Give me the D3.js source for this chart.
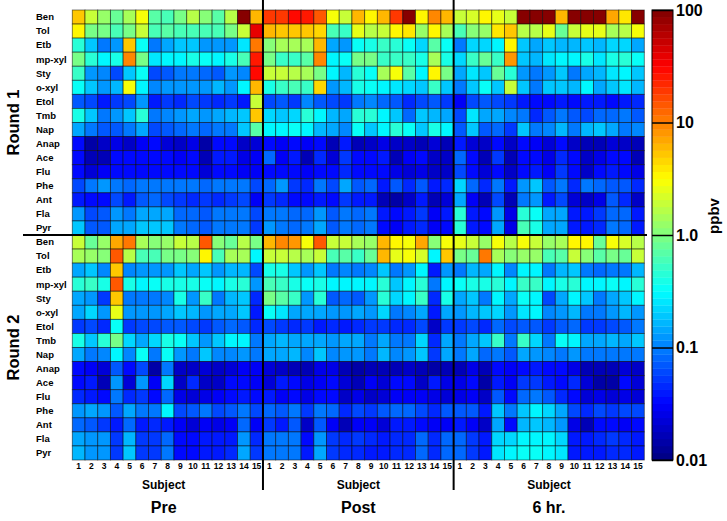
<!DOCTYPE html>
<html><head><meta charset="utf-8">
<script src="https://cdn.jsdelivr.net/npm/d3@7"></script>
<style>
body{margin:0;background:#fff;}
text{font-family:"Liberation Sans",Arial,sans-serif;font-weight:bold;fill:#000;}
</style>
</head><body>
<svg id="c" width="727" height="521"></svg>
<script>
const compounds = ["Ben","Tol","Etb","mp-xyl","Sty","o-xyl","Etol","Tmb","Nap","Anap","Ace","Flu","Phe","Ant","Fla","Pyr"];
const subjects = d3.range(1,16).map(String);
const phases = ["Pre","Post","6 hr."];
const rounds = ["Round 1","Round 2"];
const colorTicks = [0.01,0.1,1,10,100];
const colorTickLabels = ["0.01","0.1","1.0","10","100"];

// values in ppbv, rows = compounds, columns = subjects 1..15
const r1Pre = [
[5,1.8,1.2,0.8,1.5,3,0.7,0.6,1,1.6,1.1,0.7,1.6,90,6],
[3.2,1,1,0.6,1,1.8,0.6,0.7,0.6,0.6,0.6,0.6,1,2,40],
[0.45,0.2,0.1,0.12,5,0.32,0.1,0.15,0.2,0.18,0.13,0.12,0.13,0.25,11],
[0.9,0.45,0.3,0.4,10,0.9,0.25,0.3,0.3,0.4,0.32,0.3,0.4,0.6,25],
[0.5,0.12,0.11,0.06,0.2,0.32,0.06,0.07,0.09,0.1,0.08,0.065,0.12,0.11,30],
[0.32,0.18,0.13,0.16,2.8,0.3,0.11,0.12,0.12,0.13,0.12,0.16,0.13,0.3,6],
[0.07,0.06,0.04,0.055,0.06,0.13,0.04,0.05,0.045,0.06,0.05,0.045,0.05,0.04,1.8],
[0.4,0.2,0.1,0.12,0.2,0.45,0.09,0.11,0.13,0.15,0.13,0.14,0.16,0.2,5],
[0.15,0.1,0.07,0.07,0.09,0.15,0.06,0.07,0.08,0.1,0.08,0.09,0.1,0.2,0.7],
[0.035,0.015,0.018,0.025,0.02,0.03,0.035,0.022,0.018,0.025,0.015,0.035,0.035,0.018,0.022],
[0.035,0.016,0.016,0.035,0.035,0.035,0.032,0.035,0.03,0.035,0.016,0.04,0.04,0.025,0.03],
[0.035,0.022,0.03,0.035,0.035,0.035,0.035,0.035,0.035,0.035,0.022,0.035,0.035,0.028,0.03],
[0.06,0.09,0.12,0.09,0.08,0.1,0.1,0.1,0.1,0.1,0.08,0.1,0.09,0.1,0.06],
[0.04,0.035,0.035,0.06,0.04,0.07,0.08,0.06,0.05,0.045,0.05,0.045,0.05,0.06,0.03],
[0.12,0.06,0.07,0.12,0.1,0.14,0.14,0.14,0.08,0.08,0.07,0.1,0.1,0.1,0.06],
[0.2,0.065,0.07,0.15,0.15,0.18,0.18,0.18,0.09,0.08,0.07,0.1,0.1,0.1,0.05]];
const r1Post = [
[18,20,28,25,15,3,2,6,3.5,6,18,90,3.2,9,6],
[6,5.5,5.5,5,4.5,0.6,0.55,2.5,1.6,2,3.5,4,1.3,3.2,1.5],
[1.1,1.4,1.4,1.5,6,0.15,0.12,0.32,0.4,0.5,0.45,0.32,0.22,0.7,0.32],
[0.9,0.55,0.5,0.7,10,0.3,0.32,1,0.9,0.55,0.5,0.55,0.4,1.4,0.4],
[2,1.8,1.6,1.5,1,0.28,0.17,0.45,0.35,1.4,2.8,0.7,0.3,3.2,0.9],
[0.4,0.5,0.6,0.55,4.5,0.13,0.17,0.4,0.32,0.3,0.25,0.22,0.2,0.5,0.2],
[0.06,0.07,0.05,0.11,0.07,0.06,0.05,0.1,0.11,0.08,0.07,0.045,0.06,0.065,0.05],
[0.22,0.18,0.22,0.45,0.28,0.17,0.14,0.45,0.45,0.28,0.2,0.08,0.2,0.17,0.14],
[0.3,0.28,0.33,0.3,0.17,0.14,0.11,0.33,0.18,0.3,0.45,0.32,0.18,0.38,0.28],
[0.035,0.028,0.035,0.028,0.035,0.016,0.04,0.016,0.02,0.025,0.018,0.02,0.016,0.022,0.017],
[0.08,0.028,0.04,0.016,0.045,0.022,0.05,0.035,0.035,0.04,0.017,0.03,0.035,0.02,0.02],
[0.035,0.035,0.035,0.03,0.035,0.035,0.045,0.035,0.035,0.035,0.027,0.022,0.025,0.02,0.02],
[0.08,0.13,0.055,0.045,0.1,0.06,0.15,0.07,0.08,0.04,0.065,0.045,0.07,0.04,0.045],
[0.05,0.045,0.035,0.035,0.04,0.035,0.05,0.04,0.04,0.016,0.015,0.02,0.04,0.017,0.022],
[0.1,0.1,0.08,0.08,0.12,0.07,0.1,0.08,0.09,0.04,0.035,0.04,0.05,0.03,0.04],
[0.13,0.1,0.08,0.09,0.14,0.07,0.1,0.08,0.1,0.035,0.03,0.04,0.045,0.03,0.035]];
const r1Hr6 = [
[1.8,2.2,3.5,2.5,1.8,90,90,90,6,90,90,90,7,4,90],
[0.6,1.1,1.2,4,5,1.6,1.6,2.5,0.75,2,2.6,2.6,1.5,1.6,3],
[0.1,0.22,0.22,0.3,3.2,0.18,0.15,0.2,0.17,0.17,0.2,0.17,0.22,0.22,0.15],
[0.22,0.55,0.8,0.55,8,0.2,0.16,0.25,0.28,0.3,0.38,0.26,0.4,0.45,0.32],
[0.15,0.25,0.2,0.8,0.45,0.12,0.09,0.13,0.2,0.1,0.15,0.16,0.25,0.28,0.2],
[0.09,0.18,0.32,0.18,2,0.2,0.1,0.2,0.18,0.17,0.28,0.14,0.2,0.25,0.17],
[0.03,0.06,0.065,0.06,0.055,0.04,0.035,0.035,0.04,0.035,0.04,0.04,0.035,0.04,0.045],
[0.06,0.25,0.14,0.14,0.11,0.09,0.045,0.065,0.09,0.065,0.06,0.08,0.08,0.1,0.065],
[0.065,0.2,0.065,0.08,0.05,0.2,0.09,0.11,0.17,0.1,0.17,0.2,0.15,0.09,0.11],
[0.04,0.022,0.018,0.035,0.018,0.035,0.028,0.022,0.035,0.02,0.016,0.016,0.022,0.02,0.016],
[0.08,0.035,0.016,0.055,0.016,0.035,0.035,0.025,0.045,0.035,0.018,0.025,0.035,0.035,0.016],
[0.06,0.035,0.022,0.035,0.018,0.035,0.04,0.028,0.05,0.035,0.02,0.035,0.04,0.035,0.025],
[0.22,0.08,0.045,0.1,0.04,0.12,0.2,0.07,0.1,0.045,0.1,0.08,0.07,0.065,0.045],
[0.15,0.028,0.016,0.06,0.016,0.09,0.13,0.04,0.06,0.022,0.018,0.025,0.07,0.045,0.018],
[0.45,0.04,0.035,0.13,0.025,0.45,0.32,0.15,0.14,0.04,0.04,0.05,0.08,0.08,0.04],
[0.45,0.04,0.035,0.14,0.025,0.6,0.38,0.15,0.15,0.04,0.04,0.045,0.09,0.08,0.04]];
const r2Pre = [
[2,0.8,1.2,7,11,1.4,1.1,1.2,1.8,1.7,14,1.1,0.8,1.6,1],
[1.5,1.2,1.1,15,1.6,0.6,0.6,0.9,1,1.1,3.5,0.6,1.5,1.4,0.3],
[0.15,0.2,0.11,5,0.11,0.13,0.12,0.12,0.18,0.15,0.18,0.12,0.17,0.17,0.06],
[0.45,0.5,0.4,14,0.38,0.3,0.32,0.38,0.38,0.4,0.32,0.3,0.4,0.45,0.13],
[0.15,0.12,0.055,5,0.1,0.1,0.09,0.11,0.4,0.12,0.5,0.09,0.16,0.2,0.045],
[0.15,0.22,0.12,2.6,0.13,0.13,0.12,0.15,0.18,0.17,0.13,0.15,0.15,0.2,0.04],
[0.055,0.06,0.045,0.32,0.055,0.06,0.06,0.07,0.07,0.06,0.055,0.065,0.08,0.07,0.045],
[0.4,0.2,0.45,0.9,0.22,0.15,0.22,0.38,0.32,0.2,0.12,0.2,0.28,0.3,0.1],
[0.14,0.1,0.11,0.3,0.11,0.32,0.1,0.35,0.13,0.1,0.2,0.11,0.11,0.13,0.1],
[0.035,0.028,0.022,0.07,0.035,0.06,0.015,0.09,0.018,0.018,0.022,0.018,0.022,0.03,0.028],
[0.035,0.04,0.017,0.13,0.022,0.12,0.028,0.22,0.018,0.045,0.018,0.018,0.035,0.035,0.028],
[0.045,0.04,0.035,0.09,0.045,0.05,0.035,0.08,0.025,0.022,0.025,0.03,0.035,0.04,0.035],
[0.12,0.15,0.13,0.07,0.15,0.1,0.1,0.3,0.06,0.07,0.09,0.06,0.07,0.1,0.06],
[0.08,0.07,0.055,0.04,0.08,0.04,0.045,0.04,0.028,0.022,0.03,0.025,0.028,0.08,0.028],
[0.15,0.12,0.13,0.055,0.16,0.05,0.05,0.08,0.035,0.035,0.04,0.04,0.04,0.13,0.045],
[0.17,0.13,0.13,0.055,0.2,0.05,0.05,0.09,0.035,0.035,0.04,0.04,0.045,0.15,0.05]];
const r2Post = [
[6,9,8.5,3,15,2,1.8,1.5,1.2,6,3.5,3,7,1.1,3],
[2,2,1.7,1.4,2,0.6,0.7,0.5,0.8,6,2.5,3,2.2,0.3,5],
[0.4,0.4,0.2,0.12,0.2,0.09,0.11,0.1,0.11,0.2,0.1,0.12,0.3,0.04,0.13],
[0.6,0.55,0.38,0.32,0.38,0.28,0.3,0.3,0.28,0.45,0.2,0.3,0.45,0.1,0.3],
[1,0.7,0.5,0.12,0.45,0.065,0.08,0.065,0.12,0.45,0.22,0.28,0.5,0.045,0.38],
[0.32,0.25,0.15,0.15,0.15,0.13,0.12,0.14,0.12,0.22,0.09,0.11,0.14,0.04,0.15],
[0.06,0.05,0.045,0.05,0.04,0.045,0.04,0.045,0.05,0.055,0.045,0.045,0.06,0.018,0.05],
[0.15,0.17,0.15,0.15,0.15,0.13,0.14,0.14,0.1,0.15,0.09,0.1,0.22,0.045,0.15],
[0.14,0.15,0.17,0.11,0.18,0.11,0.13,0.12,0.1,0.16,0.11,0.12,0.2,0.05,0.15],
[0.022,0.02,0.016,0.016,0.025,0.025,0.016,0.015,0.016,0.017,0.016,0.02,0.016,0.015,0.016],
[0.022,0.04,0.035,0.025,0.028,0.035,0.022,0.016,0.03,0.022,0.035,0.035,0.018,0.04,0.025],
[0.04,0.028,0.035,0.025,0.035,0.035,0.018,0.025,0.018,0.022,0.028,0.028,0.03,0.025,0.022],
[0.08,0.07,0.09,0.05,0.09,0.08,0.045,0.06,0.055,0.065,0.08,0.08,0.06,0.045,0.065],
[0.05,0.04,0.065,0.018,0.065,0.028,0.017,0.028,0.028,0.022,0.04,0.04,0.035,0.03,0.028],
[0.1,0.1,0.09,0.035,0.13,0.05,0.045,0.05,0.045,0.04,0.045,0.045,0.08,0.045,0.08],
[0.1,0.1,0.09,0.04,0.15,0.055,0.045,0.045,0.04,0.04,0.045,0.045,0.08,0.045,0.08]];
const r2Hr6 = [
[2.4,1.8,1.3,3,1.6,2.8,1.8,1.2,1.5,3.2,3.2,0.8,2.8,2.2,1.6],
[1,0.8,11,1.5,1.1,1.3,1.3,0.6,0.7,2,1.1,0.7,1,0.8,2],
[0.1,0.16,0.14,0.3,0.11,0.3,0.3,0.1,0.17,0.2,0.09,0.08,0.1,0.1,0.17],
[0.32,0.4,0.38,0.45,0.28,0.55,0.55,0.3,0.38,0.45,0.3,0.28,0.32,0.28,0.45],
[0.14,0.2,0.1,0.3,0.15,0.32,0.28,0.06,0.15,0.3,0.2,0.1,0.14,0.2,0.28],
[0.12,0.16,0.18,0.22,0.12,0.25,0.28,0.11,0.13,0.17,0.09,0.1,0.13,0.16,0.12],
[0.05,0.06,0.045,0.08,0.06,0.065,0.065,0.05,0.065,0.08,0.05,0.055,0.06,0.065,0.09],
[0.1,0.15,0.2,0.5,0.1,0.5,0.22,0.1,0.32,0.28,0.14,0.15,0.16,0.14,0.2],
[0.09,0.15,0.08,0.1,0.065,0.14,0.13,0.11,0.1,0.12,0.1,0.09,0.1,0.1,0.09],
[0.016,0.025,0.017,0.035,0.03,0.035,0.04,0.035,0.035,0.025,0.016,0.016,0.016,0.022,0.018],
[0.025,0.035,0.015,0.04,0.028,0.05,0.05,0.04,0.035,0.045,0.022,0.015,0.015,0.035,0.022],
[0.025,0.03,0.02,0.065,0.035,0.08,0.09,0.07,0.045,0.035,0.022,0.025,0.022,0.025,0.022],
[0.07,0.065,0.04,0.18,0.1,0.2,0.28,0.22,0.15,0.06,0.045,0.06,0.055,0.06,0.06],
[0.04,0.028,0.018,0.15,0.035,0.17,0.2,0.17,0.12,0.025,0.016,0.035,0.035,0.028,0.035],
[0.08,0.05,0.04,0.22,0.22,0.3,0.3,0.28,0.22,0.04,0.04,0.045,0.05,0.045,0.04],
[0.08,0.05,0.04,0.25,0.28,0.32,0.32,0.3,0.25,0.04,0.04,0.04,0.045,0.045,0.04]];

const roundData = [[r1Pre, r1Post, r1Hr6], [r2Pre, r2Post, r2Hr6]];

const svg = d3.select("#c");
const L = 72.3, R = 644.3, T = 10, B = 460;

const xPhase = d3.scaleBand().domain(phases).range([L, R]);
const xSub = d3.scaleBand().domain(subjects).range([0, xPhase.bandwidth()]);
const yRound = d3.scaleBand().domain(rounds).range([T, B]);
const yComp = d3.scaleBand().domain(compounds).range([0, yRound.bandwidth()]);
const tScale = d3.scaleLog().domain([0.01, 100]).range([0, 1]).clamp(true);

function jet(t) {
  const c = v => Math.max(0, Math.min(1, v));
  const r = c(1.5 - Math.abs(4 * t - 3));
  const g = c(1.5 - Math.abs(4 * t - 2));
  const b = c(1.5 - Math.abs(4 * t - 1));
  return d3.rgb(r * 255, g * 255, b * 255).toString();
}
const NLEV = 64;
function levelOf(v) { return Math.min(NLEV - 1, Math.floor(tScale(v) * NLEV)); }
function color(v) { return jet((levelOf(v) + 0.5) / NLEV); }

const cells = [];
rounds.forEach((rd, ri) => phases.forEach((ph, pi) => compounds.forEach((cp, ci) =>
  subjects.forEach((s, si) => cells.push({rd, ph, cp, s, v: roundData[ri][pi][ci][si]})))));

svg.append("g").selectAll("rect").data(cells).join("rect")
  .attr("x", d => xPhase(d.ph) + xSub(d.s))
  .attr("y", d => yRound(d.rd) + yComp(d.cp))
  .attr("width", xSub.bandwidth())
  .attr("height", yComp.bandwidth())
  .attr("fill", d => color(d.v))
  .attr("stroke", "rgba(0,0,0,0.55)")
  .attr("stroke-width", 0.9);

// separators
svg.append("g").selectAll("line").data(phases.slice(1)).join("line")
  .attr("x1", d => xPhase(d)).attr("x2", d => xPhase(d))
  .attr("y1", 0).attr("y2", 490)
  .attr("stroke", "#000").attr("stroke-width", 2);
svg.append("line")
  .attr("x1", 23).attr("x2", 647)
  .attr("y1", yRound("Round 2")).attr("y2", yRound("Round 2"))
  .attr("stroke", "#000").attr("stroke-width", 2);

// row labels
rounds.forEach(rd => {
  svg.append("g").selectAll("text").data(compounds).join("text")
    .attr("x", 36)
    .attr("y", d => yRound(rd) + yComp(d) + yComp.bandwidth() / 2)
    .attr("dy", "0.35em")
    .style("font-size", "9.5px")
    .text(d => d);
  svg.append("text")
    .attr("transform", `translate(19,${yRound(rd) + yRound.bandwidth() / 2}) rotate(-90)`)
    .attr("text-anchor", "middle")
    .style("font-size", "16.5px")
    .text(rd);
});

// subject ticks and phase labels
phases.forEach(ph => {
  svg.append("g").selectAll("text").data(subjects).join("text")
    .attr("x", d => xPhase(ph) + xSub(d) + xSub.bandwidth() / 2)
    .attr("y", 469)
    .attr("text-anchor", "middle")
    .style("font-size", "8.5px")
    .text(d => d);
  const cx = xPhase(ph) + xPhase.bandwidth() / 2 - (ph === "Pre" ? 4 : 0);
  svg.append("text").attr("x", cx).attr("y", 489).attr("text-anchor", "middle")
    .style("font-size", "12px").text("Subject");
  svg.append("text").attr("x", cx).attr("y", 513).attr("text-anchor", "middle")
    .style("font-size", "16px").text(ph);
});

// colorbar
const cbX = 652, cbW = 21;
const yCb = d3.scaleLog().domain([0.01, 100]).range([B, T]);
const levels = d3.range(NLEV);
svg.append("g").selectAll("rect").data(levels).join("rect")
  .attr("x", cbX)
  .attr("y", i => yCb(Math.pow(10, (i + 1) / NLEV * 4 - 2)))
  .attr("width", cbW)
  .attr("height", i => yCb(Math.pow(10, i / NLEV * 4 - 2)) - yCb(Math.pow(10, (i + 1) / NLEV * 4 - 2)) + 0.3)
  .attr("fill", i => jet((i + 0.5) / NLEV));
svg.append("rect").attr("x", cbX).attr("y", T).attr("width", cbW).attr("height", B - T)
  .attr("fill", "none").attr("stroke", "#000").attr("stroke-width", 1);
const ax = svg.append("g").attr("transform", `translate(${cbX + cbW},0)`)
  .call(d3.axisRight(yCb).tickValues(colorTicks).tickFormat((d, i) => colorTickLabels[i])
    .tickSize(-cbW).tickPadding(3));
ax.select(".domain").remove();
ax.selectAll(".tick line").attr("stroke", "#000").attr("stroke-width", 1.5);
ax.selectAll(".tick text").style("font-size", "16px").style("font-family", "'Liberation Sans',Arial,sans-serif").style("font-weight", "bold").attr("fill", "#000");
svg.append("text").attr("transform", "translate(719,216) rotate(-90)")
  .attr("text-anchor", "middle").style("font-size", "15px").text("ppbv");
</script>
</body></html>
